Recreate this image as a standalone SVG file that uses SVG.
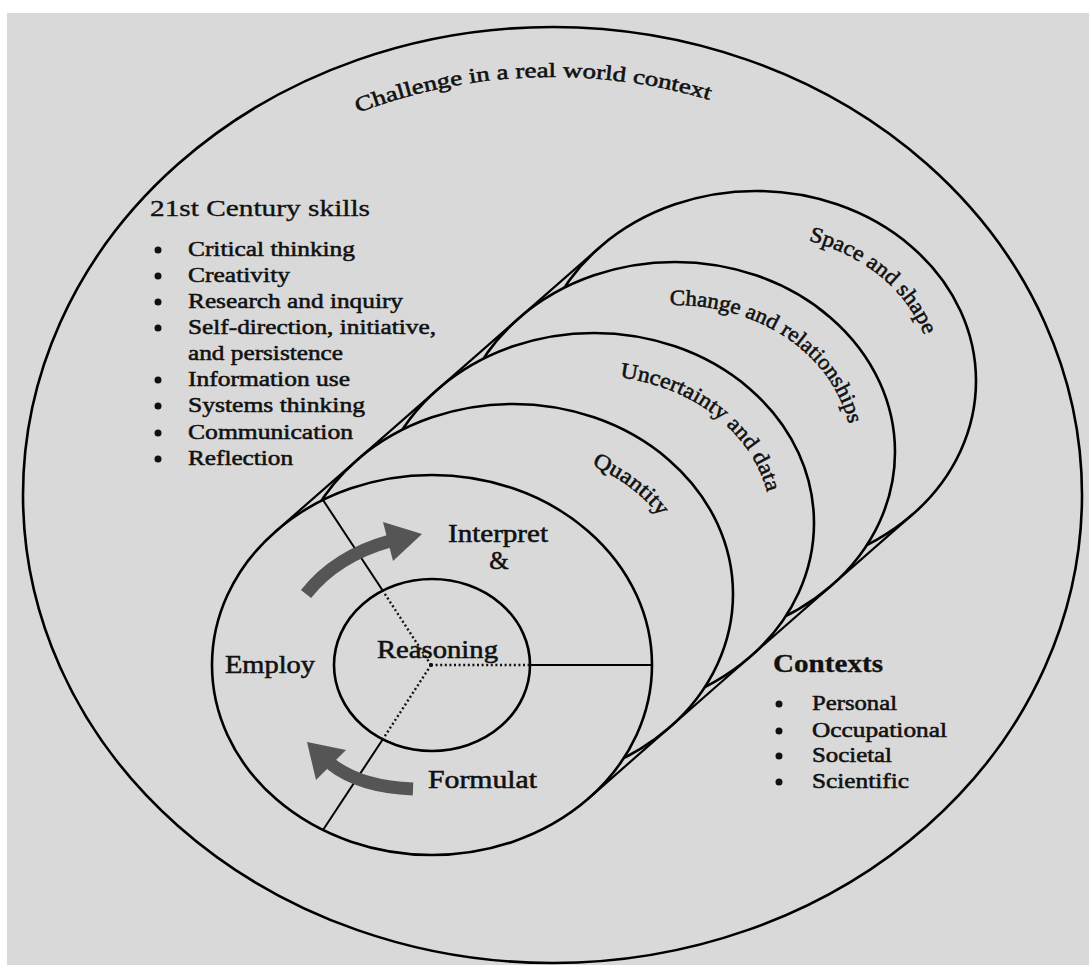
<svg xmlns="http://www.w3.org/2000/svg" width="1089" height="965" viewBox="0 0 1089 965">
  <style>
    .ring { fill: #d9d9d9; stroke: #000; stroke-width: 2.6; }
    .edge { fill: none; stroke: #000; stroke-width: 2.2; stroke-linecap: round; }
    .spoke { fill: none; stroke: #000; stroke-width: 2; }
    .dotted { fill: none; stroke: #111; stroke-width: 2.4; stroke-dasharray: 2 2.6; }
    .flow { fill: none; stroke: #555; stroke-width: 13; }
    .flow-head { fill: #555; }
    .bullet { fill: #111; }
    text { font-family: "Liberation Serif", "Times New Roman", serif; fill: #111; stroke: #111; stroke-width: 0.55; }
    .list { font-size: 22px; }
    .head { font-size: 23px; stroke-width: 0.35; }
    .ctx-head { font-size: 26px; font-weight: bold; stroke-width: 0.3; }
    .phase { font-size: 25px; }
    .band { font-size: 22px; }
    .outer { font-size: 21px; }
  </style>
  <defs>
    <!-- baselines for the curved labels, concentric with their ellipses -->
    <path id="arc-challenge" d="M237.9,179.5 A479.5,418 0 0 1 834.3,156.8"/>
    <path id="arc-space" d="M731.4,235.4 A177,147 0 0 1 929.1,411.6"/>
    <path id="arc-change" d="M629.2,310 A177,147 0 0 1 851.3,464.8"/>
    <path id="arc-uncertainty" d="M563.3,378.2 A177,147 0 0 1 768.3,548.5"/>
    <path id="arc-quantity" d="M497.8,450.5 A174,144 0 0 1 686.3,606.6"/>
  </defs>

  <!-- page background -->
  <rect x="0" y="0" width="1089" height="965" fill="#ffffff"/>
  <rect x="7" y="13" width="1082" height="952" fill="#d9d9d9"/>

  <!-- outermost context ring -->
  <g id="challenge">
    <ellipse class="ring" cx="552.5" cy="495" rx="529.5" ry="468"/>
    <text class="outer" text-anchor="middle"><textPath href="#arc-challenge" startOffset="50%" textLength="358" lengthAdjust="spacingAndGlyphs">Challenge in a real world context</textPath></text>
  </g>

  <!-- stacked content discs, back to front -->
  <g id="space-and-shape">
    <ellipse class="ring" cx="756" cy="381" rx="220" ry="190"/>
    <text class="band" text-anchor="middle"><textPath href="#arc-space" startOffset="50%" textLength="155" lengthAdjust="spacingAndGlyphs">Space and shape</textPath></text>
  </g>
  <g id="change-and-relationships">
    <ellipse class="ring" cx="675" cy="452" rx="220" ry="190"/>
    <text class="band" text-anchor="middle"><textPath href="#arc-change" startOffset="50%" textLength="232" lengthAdjust="spacingAndGlyphs">Change and relationships</textPath></text>
  </g>
  <g id="uncertainty-and-data">
    <ellipse class="ring" cx="594" cy="523" rx="220" ry="190"/>
    <text class="band" text-anchor="middle"><textPath href="#arc-uncertainty" startOffset="50%" textLength="198" lengthAdjust="spacingAndGlyphs">Uncertainty and data</textPath></text>
  </g>
  <g id="quantity">
    <ellipse class="ring" cx="513" cy="594" rx="220" ry="190"/>
    <text class="band" text-anchor="middle"><textPath href="#arc-quantity" startOffset="50%" textLength="86" lengthAdjust="spacingAndGlyphs">Quantity</textPath></text>
  </g>

  <!-- process disc at the front -->
  <g id="process">
    <ellipse class="ring" cx="432" cy="665" rx="220" ry="190"/>
    <line class="spoke" x1="323" y1="500" x2="383" y2="591"/>
    <line class="spoke" x1="323" y1="830" x2="383" y2="739"/>
    <line class="spoke" x1="530" y1="665" x2="652" y2="665"/>
    <text class="phase" x="448" y="542" textLength="100" lengthAdjust="spacingAndGlyphs">Interpret</text>
    <text class="phase" x="499" y="569" text-anchor="middle">&amp;</text>
    <text class="phase" x="225" y="673" textLength="90" lengthAdjust="spacingAndGlyphs">Employ</text>
    <text class="phase" x="428" y="788" textLength="109" lengthAdjust="spacingAndGlyphs">Formulat</text>
  </g>

  <g id="reasoning">
    <ellipse class="ring" cx="432" cy="665" rx="98" ry="86"/>
    <line class="dotted" x1="431" y1="665" x2="383" y2="591"/>
    <line class="dotted" x1="431" y1="665" x2="383" y2="739"/>
    <line class="dotted" x1="431" y1="665" x2="530" y2="665"/>
    <circle cx="431" cy="665" r="2" fill="#111"/>
    <text class="phase" x="377" y="658" textLength="121" lengthAdjust="spacingAndGlyphs">Reasoning</text>
  </g>

  <!-- silhouette edges of the disc stack and the flow arrows -->
  <g id="connectors">
    <line class="edge" x1="275.4" y1="531.6" x2="599.4" y2="247.6"/>
    <line class="edge" x1="588.6" y1="798.4" x2="912.6" y2="514.4"/>
    <path class="flow" d="M306,594 Q336,556 390,541"/>
    <polygon class="flow-head" points="383,522 393,561 422,534"/>
    <path class="flow" d="M413,789 Q360,787 331,764"/>
    <polygon class="flow-head" points="307,742 316,780 346,750"/>
  </g>

  <g id="skills">
    <text class="head" x="150" y="216" textLength="220" lengthAdjust="spacingAndGlyphs">21st Century skills</text>
    <circle class="bullet" cx="158" cy="250" r="3.5"/>
    <text class="list" x="188" y="256" textLength="167" lengthAdjust="spacingAndGlyphs">Critical thinking</text>
    <circle class="bullet" cx="158" cy="276" r="3.5"/>
    <text class="list" x="188" y="282" textLength="102" lengthAdjust="spacingAndGlyphs">Creativity</text>
    <circle class="bullet" cx="158" cy="302" r="3.5"/>
    <text class="list" x="188" y="308" textLength="215" lengthAdjust="spacingAndGlyphs">Research and inquiry</text>
    <circle class="bullet" cx="158" cy="328" r="3.5"/>
    <text class="list" x="188" y="334" textLength="248" lengthAdjust="spacingAndGlyphs">Self-direction, initiative,</text>
    <text class="list" x="188" y="360" textLength="155" lengthAdjust="spacingAndGlyphs">and persistence</text>
    <circle class="bullet" cx="158" cy="380" r="3.5"/>
    <text class="list" x="188" y="386" textLength="162" lengthAdjust="spacingAndGlyphs">Information use</text>
    <circle class="bullet" cx="158" cy="406" r="3.5"/>
    <text class="list" x="188" y="412" textLength="177" lengthAdjust="spacingAndGlyphs">Systems thinking</text>
    <circle class="bullet" cx="158" cy="433" r="3.5"/>
    <text class="list" x="188" y="439" textLength="165" lengthAdjust="spacingAndGlyphs">Communication</text>
    <circle class="bullet" cx="158" cy="459" r="3.5"/>
    <text class="list" x="188" y="465" textLength="105" lengthAdjust="spacingAndGlyphs">Reflection</text>
  </g>

  <g id="contexts">
    <text class="ctx-head" x="773" y="672" textLength="110" lengthAdjust="spacingAndGlyphs">Contexts</text>
    <circle class="bullet" cx="779" cy="704" r="3.5"/>
    <text class="list" x="812" y="710" textLength="85" lengthAdjust="spacingAndGlyphs">Personal</text>
    <circle class="bullet" cx="779" cy="731" r="3.5"/>
    <text class="list" x="812" y="737" textLength="135" lengthAdjust="spacingAndGlyphs">Occupational</text>
    <circle class="bullet" cx="779" cy="756" r="3.5"/>
    <text class="list" x="812" y="762" textLength="80" lengthAdjust="spacingAndGlyphs">Societal</text>
    <circle class="bullet" cx="779" cy="782" r="3.5"/>
    <text class="list" x="812" y="788" textLength="97" lengthAdjust="spacingAndGlyphs">Scientific</text>
  </g>
</svg>
